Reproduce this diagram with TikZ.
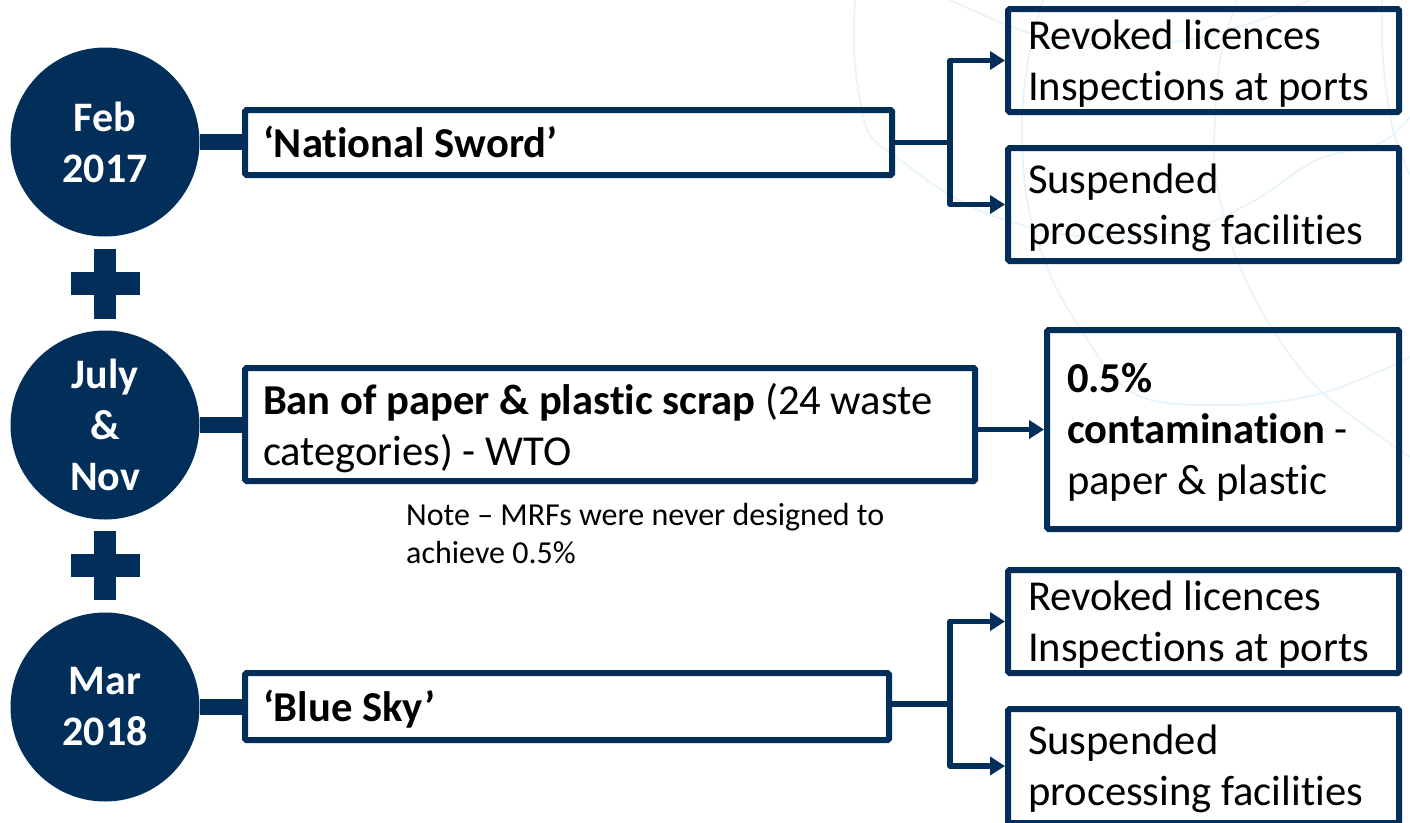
\documentclass[tikz,border=0pt]{standalone}
\usepackage{fontspec}
\setmainfont[Ligatures=NoCommon]{Carlito}
\usetikzlibrary{arrows.meta,calc}
\definecolor{navy}{HTML}{022F5A}
\definecolor{faint}{HTML}{E8F4FC}
\tikzset{
  x=1pt,y=-1pt,
  bigtext/.style={font=\fontsize{42.6}{51}\selectfont,text=black},
  boxnode/.style={bigtext,draw=navy,line width=6pt,rounded corners=1.5pt,inner xsep=20pt,inner ysep=0pt,align=flush left,anchor=center,
    execute at begin node={\leavevmode\rule{0pt}{38pt}},execute at end node={\rule[-10pt]{0pt}{0pt}}},
  mainbox/.style={boxnode,inner xsep=18pt,
    execute at begin node={\leavevmode\rule{0pt}{40pt}},execute at end node={\rule[-10pt]{0pt}{0pt}}},
  datenode/.style={circle,fill=navy,minimum size=189pt,inner sep=0pt,align=center,text=white,font=\fontsize{42}{51}\selectfont\bfseries},
  notenode/.style={font=\fontsize{32}{38}\selectfont,text=black,align=left,anchor=north west,inner sep=0pt},
  stub/.style={navy,line width=16pt},
  link/.style={navy,line width=5.5pt,line join=round},
  arrowlink/.style={link,-{Triangle[length=15pt,width=18pt]}},
  arc/.style={faint,line width=1.8pt},
  plusbar/.style={fill=navy}
}
\begin{document}
\begin{tikzpicture}
\useasboundingbox (0,0) rectangle (1410,822);
\fill[white] (0,0) rectangle (1410,822);
% faint background globe
\draw[arc] plot[smooth,tension=0.6] coordinates {(855,0) (854,50) (860,100) (870,135) (900,160) (950,195) (1005,220) (1080,236) (1177,233) (1250,203) (1317,160) (1380,143) (1410,117)};
\draw[arc] plot[smooth,tension=0.6] coordinates {(950,0) (1007,25) (1050,38) (1110,45) (1187,40) (1260,20) (1310,0)};
\draw[arc] plot[smooth,tension=0.6] coordinates {(1043,0) (1030,50) (1022,120) (1027,200) (1047,267) (1077,323) (1133,393) (1227,405) (1323,393) (1410,357)};
\draw[arc] plot[smooth,tension=0.6] coordinates {(1237,0) (1220,60) (1215,120) (1215,170) (1225,220) (1240,267) (1273,330) (1323,393) (1410,457)};
\draw[arc] plot[smooth,tension=0.6] coordinates {(1382,0) (1383,60) (1393,130) (1410,175)};
% date circles
\node[datenode] (c1) at (105,142) {Feb\\2017};
\node[datenode] (c2) at (105,425) {July\\\&\\Nov};
\node[datenode] (c3) at (105,707) {Mar\\2018};
% plus signs
\fill[plusbar] (94,249) rectangle (116,319);
\fill[plusbar] (71,272) rectangle (140,295);
\fill[plusbar] (94,531) rectangle (116,600);
\fill[plusbar] (71,554) rectangle (140,577);
% main boxes
\node[mainbox,text width=611pt,minimum height=65pt] (b1) at (568.5,142.5) {\textbf{‘National Sword’}};
\node[mainbox,text width=694pt,minimum height=113pt] (b2) at (610,424.5) {\textbf{Ban of paper \& plastic scrap} (24 waste\\categories) - WTO};
\node[mainbox,text width=608pt,minimum height=67pt] (b3) at (567,706.5) {\textbf{‘Blue Sky’}};
% outcome boxes
\node[boxnode,text width=351pt,minimum height=103pt] (r1) at (1203.5,60.5) {Revoked licences\\Inspections at ports};
\node[boxnode,text width=351pt,minimum height=113pt] (r2) at (1203.5,204.5) {Suspended\\processing facilities};
\node[boxnode,text width=312pt,minimum height=199pt] (r5) at (1223,429.5) {\textbf{0.5\%}\\\textbf{contamination} -\\paper \& plastic};
\node[boxnode,text width=351pt,minimum height=103pt] (r3) at (1203.5,621.5) {Revoked licences\\Inspections at ports};
\node[boxnode,text width=351pt,minimum height=114pt] (r4) at (1203.5,766) {Suspended\\processing facilities};
% note
\node[notenode] (note) at (406,503) {Note – MRFs were never designed to\\achieve 0.5\%};
% stubs
\draw[stub] (c1.east) -- (c1.east -| b1.west);
\draw[stub] (c2.east) -- (c2.east -| b2.west);
\draw[stub] (c3.east) -- (c3.east -| b3.west);
% connectors
\coordinate (j1) at (950,142.5);
\coordinate (j3) at (950,704);
\draw[link] (b1.east) -- (j1);
\draw[arrowlink] (j1) |- (r1.west);
\draw[arrowlink] (j1) |- (r2.west);
\draw[link] (b3.east |- j3) -- (j3);
\draw[arrowlink] (j3) |- (r3.west);
\draw[arrowlink] (j3) |- (r4.west);
\draw[arrowlink,line width=4.5pt] (b2.east |- r5.west) -- (r5.west);
\end{tikzpicture}
\end{document}
